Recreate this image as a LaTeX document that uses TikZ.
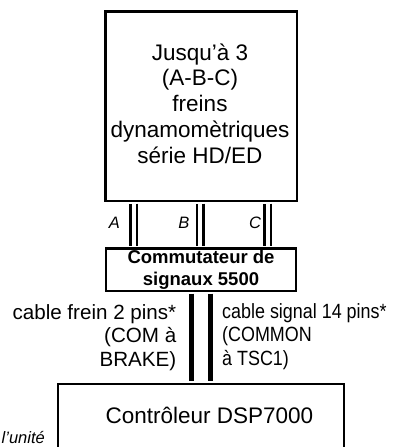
\documentclass[tikz,border=0pt]{standalone}
\usepackage{fontspec}
\setmainfont{Liberation Sans}
\newfontfamily\condfont[FakeStretch=0.87]{Liberation Sans}
\begin{document}
\begin{tikzpicture}[x=1pt,y=-1pt,
  box/.style={draw, line width=2.6pt, inner sep=0pt},
  pair/.style={line width=2.3pt, double, double distance=4.2pt, shorten >=1.3pt, shorten <=1.3pt},
  cable/.style={line width=4.7pt, shorten >=1.3pt, shorten <=1.3pt},
  lbl/.style={inner sep=0pt, font=\itshape\fontsize{16.5}{20}\selectfont}]
\useasboundingbox (0,0) rectangle (396,447);
% boxes
\node[box, minimum width=191.7pt, minimum height=189.7pt] (brakes) at (201.15,106.15) {};
\node[inner sep=0pt, align=center, font=\fontsize{22.5}{25.75}\selectfont] (brakestext) at (200,103.5)
  {Jusqu’à 3\\(A-B-C)\\freins\\dynamomètriques\\série HD/ED};
\node[box, minimum width=190pt, minimum height=42.3pt, align=center,
  font=\bfseries\fontsize{18.5}{22.7}\selectfont] (switch) at (201,269.85)
  {Commutateur de\\signaux 5500};
\node[box, minimum width=286pt, minimum height=120pt] (ctrl) at (201,444) {};
\node[inner sep=0pt, anchor=base, font=\fontsize{22.5}{27}\selectfont] (ctrltext) at (209.5,423) {Contrôleur DSP7000};
% double connectors
\path (133.75,0) coordinate (xa) (200.35,0) coordinate (xb) (267.85,0) coordinate (xc)
      (191.7,0) coordinate (xl) (210.8,0) coordinate (xr);
\draw[pair] (brakes.south -| xa) -- (switch.north -| xa);
\draw[pair] (brakes.south -| xb) -- (switch.north -| xb);
\draw[pair] (brakes.south -| xc) -- (switch.north -| xc);
\draw[cable] (switch.south -| xl) -- (ctrl.north -| xl);
\draw[cable] (switch.south -| xr) -- (ctrl.north -| xr);
% labels
\node[lbl, anchor=base] (la) at (114.5,228.5) {A};
\node[lbl, anchor=base] (lb) at (184,228.5) {B};
\node[lbl, anchor=base] (lc) at (255,228.5) {C};
\node[inner sep=0pt, anchor=north east, align=right, font=\fontsize{20.6}{23.5}\selectfont] (lefttext) at (176.5,304)
  {cable frein 2 pins*\\(COM à\\BRAKE)};
\node[inner sep=0pt, anchor=north west, align=left, font=\condfont\fontsize{20.6}{23.5}\selectfont] (righttext) at (222,303.3)
  {cable signal 14 pins*\\(COMMON\\à TSC1)};
\node[lbl, anchor=base east] (unit) at (45,443) {l’unité};
\end{tikzpicture}
\end{document}
